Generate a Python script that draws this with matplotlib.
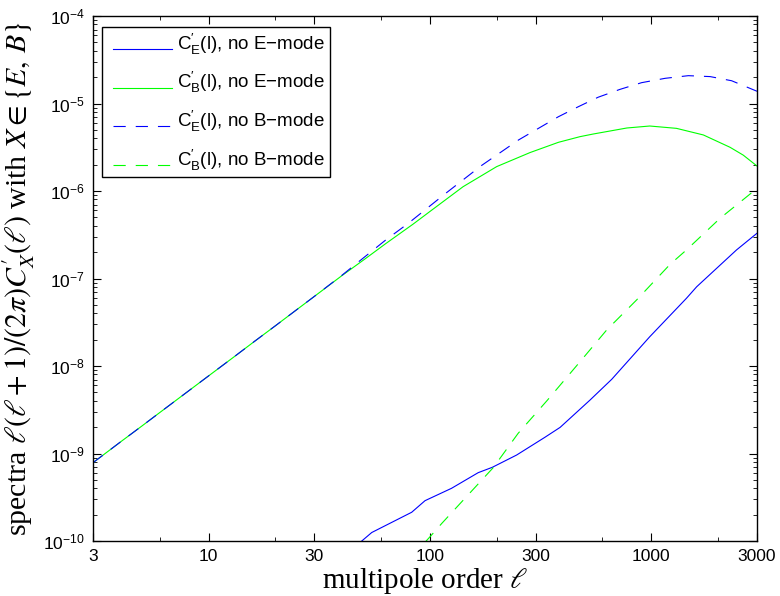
import matplotlib
matplotlib.use("Agg")
import matplotlib.pyplot as plt
import matplotlib.transforms as mtransforms
from matplotlib.ticker import FixedLocator, FixedFormatter, LogFormatterSciNotation, NullFormatter

plt.rcParams['font.family'] = ['Liberation Sans', 'DejaVu Sans']
plt.rcParams['mathtext.fontset'] = 'custom'
plt.rcParams['mathtext.rm'] = 'Liberation Sans'
plt.rcParams['mathtext.it'] = 'Liberation Sans:italic'
plt.rcParams['mathtext.bf'] = 'Liberation Sans:bold'

# C'_E(l), no E-mode
ell_e_noe = [48, 54.5, 82.6, 94.9, 125, 165, 191, 246, 330, 387, 528, 662, 983, 1440, 1602, 2424, 3000]
ce_noe = [9.5e-11, 1.25e-10, 2.13e-10, 2.89e-10, 4.0e-10, 6.04e-10, 6.95e-10, 9.6e-10, 1.53e-9,
          1.99e-9, 4.08e-9, 7.05e-9, 2.16e-8, 5.94e-8, 8.05e-8, 2.12e-7, 3.29e-7]

# C'_B(l), no E-mode
ell_b_noe = [3, 4, 5, 6, 8, 10, 13, 16, 20, 25, 30, 40, 50.6, 63, 84, 100, 141, 200, 283, 380, 476,
             546, 775, 983, 1298, 1717, 2266, 2600, 3000]
cb_noe = [7.85e-10, 1.36e-9, 2.07e-9, 2.93e-9, 5.06e-9, 7.73e-9, 1.27e-8, 1.89e-8, 2.88e-8, 4.41e-8,
          6.24e-8, 1.08e-7, 1.66e-7, 2.5e-7, 4.2e-7, 5.85e-7, 1.12e-6, 1.9e-6, 2.75e-6, 3.6e-6, 4.18e-6,
          4.48e-6, 5.25e-6, 5.53e-6, 5.2e-6, 4.37e-6, 3.16e-6, 2.57e-6, 1.93e-6]

# C'_E(l), no B-mode
ell_e_nob = [3, 4, 5, 6, 8, 10, 13, 16, 20, 25, 30, 40, 50, 63, 80, 117, 171, 251, 380, 468, 575,
             721, 903, 1154, 1469, 1842, 2304, 3000]
ce_nob = [7.85e-10, 1.36e-9, 2.07e-9, 2.93e-9, 5.06e-9, 7.73e-9, 1.27e-8, 1.89e-8, 2.88e-8, 4.41e-8,
          6.24e-8, 1.09e-7, 1.72e-7, 2.75e-7, 4.3e-7, 9.3e-7, 1.96e-6, 3.83e-6, 7.06e-6, 9.2e-6,
          1.18e-5, 1.45e-5, 1.73e-5, 1.94e-5, 2.08e-5, 2.03e-5, 1.82e-5, 1.38e-5]

# C'_B(l), no B-mode
ell_b_nob = [95, 100, 113, 193, 250, 337, 476, 628, 857, 1214, 1440, 2044, 3000]
cb_nob = [9.7e-11, 1.12e-10, 1.59e-10, 6.9e-10, 1.7e-9, 4.0e-9, 1.12e-8, 2.58e-8, 5.68e-8, 1.45e-7,
          2.12e-7, 4.88e-7, 1.07e-6]

labels = [r"$\mathregular{C^{\prime}_{E}}$(l), no E−mode",
          r"$\mathregular{C^{\prime}_{B}}$(l), no E−mode",
          r"$\mathregular{C^{\prime}_{E}}$(l), no B−mode",
          r"$\mathregular{C^{\prime}_{B}}$(l), no B−mode"]

xticks = [3, 10, 30, 100, 300, 1000, 3000]
xtick_labels = ['3', '10', '30', '100', '300', '1000', '3000']
xminor = [6, 20, 60, 200, 600, 2000]
yticks = [1e-10, 1e-9, 1e-8, 1e-7, 1e-6, 1e-5, 1e-4]
yminor = [m * d for d in yticks[:-1] for m in range(2, 10)]

fig = plt.figure(figsize=(7.8, 5.96), dpi=100)
ax = fig.add_axes([93 / 780, 55 / 596, 664 / 780, 525 / 596])

lw = 0.8
dash = (0, (11, 9))
ax.plot(ell_e_noe, ce_noe, color='#0000ff', lw=lw, label=labels[0])
ax.plot(ell_b_noe, cb_noe, color='#00ff00', lw=lw, label=labels[1])
ax.plot(ell_e_nob, ce_nob, color='#0000ff', lw=lw, ls=dash, label=labels[2])
ax.plot(ell_b_nob, cb_nob, color='#00ff00', lw=lw, ls=dash, label=labels[3])

ax.set_xscale('log')
ax.set_yscale('log')
ax.set_xlim(3, 3000)
ax.set_ylim(1e-10, 1e-4)

ax.xaxis.set_major_locator(FixedLocator(xticks))
ax.xaxis.set_major_formatter(FixedFormatter(xtick_labels))
ax.xaxis.set_minor_locator(FixedLocator(xminor))
ax.xaxis.set_minor_formatter(NullFormatter())
ax.yaxis.set_major_locator(FixedLocator(yticks))
ax.yaxis.set_major_formatter(LogFormatterSciNotation())
ax.yaxis.set_minor_locator(FixedLocator(yminor))
ax.yaxis.set_minor_formatter(NullFormatter())

ax.tick_params(which='both', direction='in', top=True, right=True, labelsize=12.5, pad=6)
ax.tick_params(which='major', length=6, width=0.8)
ax.tick_params(which='minor', length=3, width=0.6)
for sp in ax.spines.values():
    sp.set_linewidth(1.0)

ax.set_xlabel(r"multipole order $\ell$", fontsize=21, family='Liberation Serif',
              math_fontfamily='stix', labelpad=1)
ax.set_ylabel(r"spectra $\ell(\ell+1)/(2\pi)C^{\prime}_X(\ell)$ with $X\in\{E,\,B\}$", fontsize=21.5,
              family='Liberation Serif', math_fontfamily='stix', labelpad=4)

leg = ax.legend(loc='upper left', bbox_to_anchor=(9 / 664, 1 - 11 / 525), borderaxespad=0,
                fontsize=13.5, handlelength=3.15, labelspacing=0.72,
                fancybox=False, framealpha=1, edgecolor='black',
                borderpad=0.25, handletextpad=0.62)
leg.get_frame().set_linewidth(1.0)
# legend sample lines sit slightly below the label centres, inset from the frame
for hl in leg.get_lines():
    hl.set_transform(hl.get_transform() + mtransforms.Affine2D().translate(6, -6))

fig.savefig('out.png', dpi=100)
